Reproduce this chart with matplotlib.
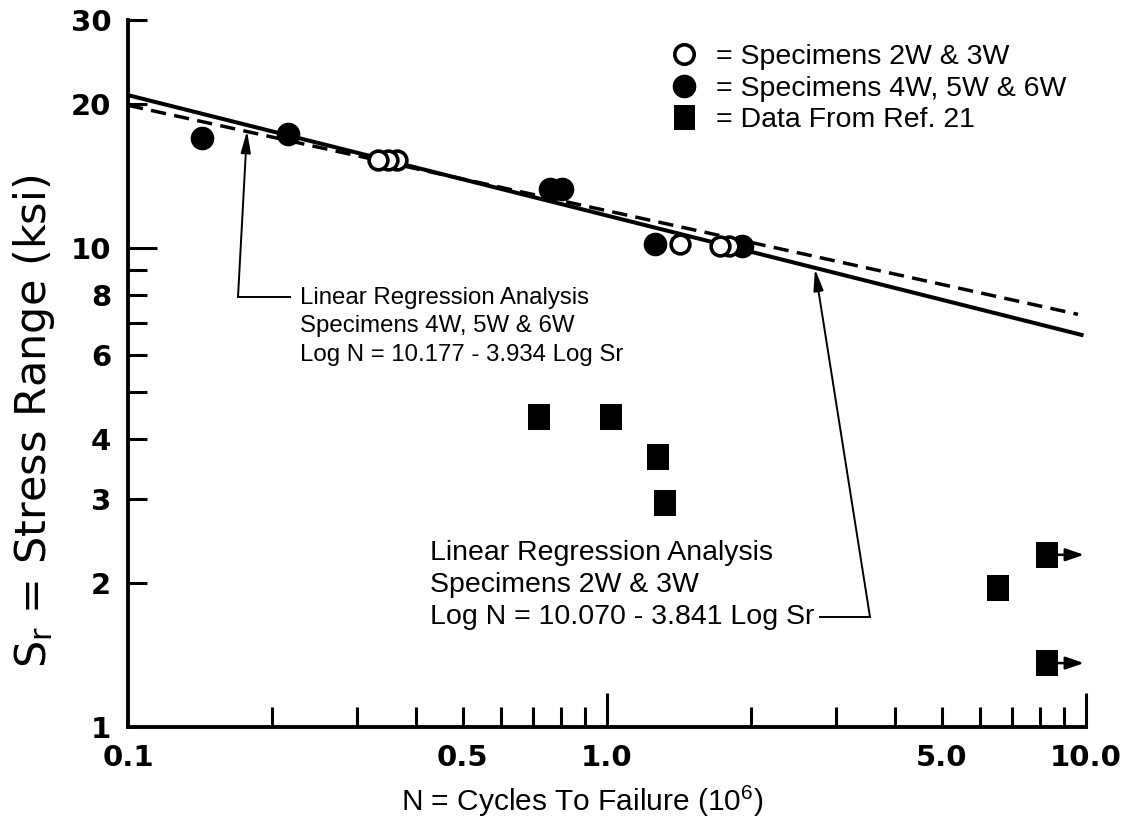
import matplotlib
matplotlib.use("Agg")
import matplotlib.pyplot as plt
from matplotlib.ticker import FixedLocator, FixedFormatter, NullFormatter
from matplotlib.lines import Line2D

# ---------------- data ----------------
open_N = [0.332, 0.349, 0.365, 1.42, 1.72, 1.80]          # Specimens 2W & 3W
open_S = [15.3, 15.3, 15.3, 10.2, 10.1, 10.1]
filled_N = [0.143, 0.216, 0.760, 0.807, 1.26, 1.91]       # Specimens 4W, 5W & 6W
filled_S = [17.0, 17.3, 13.3, 13.3, 10.2, 10.1]
ref_N = [0.721, 1.02, 1.28, 1.32, 6.55, 8.29, 8.29]       # Data from Ref. 21
ref_S = [4.44, 4.44, 3.66, 2.94, 1.95, 2.29, 1.36]
runout_N = [8.29, 8.29]
runout_S = [2.29, 1.36]
runout_end_N = 9.9

fit_2w3w_N = [0.1, 9.88]      # solid line
fit_2w3w_S = [20.9, 6.58]
fit_456w_N = [0.1, 9.62]      # dashed line
fit_456w_S = [19.9, 7.28]

x_major = [0.1, 0.5, 1.0, 5.0, 10.0]
x_major_labels = ["0.1", "0.5", "1.0", "5.0", "10.0"]
x_minor = [0.2, 0.3, 0.4, 0.6, 0.7, 0.8, 0.9, 2, 3, 4, 6, 7, 8, 9]
y_major = [1, 2, 3, 4, 6, 8, 10, 20, 30]
y_major_labels = ["1", "2", "3", "4", "6", "8", "10", "20", "30"]
y_minor = [5, 7, 9]

legend_labels = ["= Specimens 2W & 3W", "= Specimens 4W, 5W & 6W", "= Data From Ref. 21"]
upper_text = ["Linear Regression Analysis", "Specimens 4W, 5W & 6W", "Log N = 10.177 - 3.934 Log Sr"]
lower_text = ["Linear Regression Analysis", "Specimens 2W & 3W", "Log N = 10.070 - 3.841 Log Sr"]

# ---------------- figure ----------------
W, H = 1128, 834
fig = plt.figure(figsize=(W / 100, H / 100), dpi=100)
ax = fig.add_axes([128 / W, 1 - 727 / H, (1086 - 128) / W, (727 - 20) / H])
ax.set_xscale("log")
ax.set_yscale("log")
ax.set_xlim(0.1, 10)
ax.set_ylim(1, 30)

TXT = "Liberation Sans"

for s in ("top", "right"):
    ax.spines[s].set_visible(False)
for s in ("left", "bottom"):
    ax.spines[s].set_linewidth(2.8)
    ax.spines[s].set_capstyle("projecting")

# slightly tall rectangle marker, like the reference squares
rect = [(-0.42, -0.5), (0.42, -0.5), (0.42, 0.5), (-0.42, 0.5), (-0.42, -0.5)]

# regression lines
ax.plot(fit_2w3w_N, fit_2w3w_S, color="black", lw=2.9, solid_capstyle="butt", zorder=3)
ax.plot(fit_456w_N, fit_456w_S, color="black", lw=2.5, dashes=(4.4, 2.4), zorder=3)

# data
order = sorted(range(len(open_N)), key=lambda i: -open_N[i])
ax.scatter([open_N[i] for i in order], [open_S[i] for i in order], s=13.5 ** 2,
           facecolor="white", edgecolor="black", linewidths=2.6, zorder=5)
ax.scatter(filled_N, filled_S, s=16 ** 2, color="black", zorder=4)
ax.scatter(ref_N, ref_S, s=18.5 ** 2, marker=rect, color="black", linewidths=0, zorder=4)

for n, s in zip(runout_N, runout_S):
    ax.annotate("", xy=(runout_end_N, s), xytext=(n, s),
                arrowprops=dict(arrowstyle="-|>,head_length=1.1,head_width=0.38",
                                color="black", lw=1.8, shrinkA=7, shrinkB=0,
                                mutation_scale=10))

# ticks
ax.xaxis.set_major_locator(FixedLocator(x_major))
ax.xaxis.set_major_formatter(FixedFormatter(x_major_labels))
ax.xaxis.set_minor_locator(FixedLocator(x_minor))
ax.xaxis.set_minor_formatter(NullFormatter())
ax.yaxis.set_major_locator(FixedLocator(y_major))
ax.yaxis.set_major_formatter(FixedFormatter(y_major_labels))
ax.yaxis.set_minor_locator(FixedLocator(y_minor))
ax.yaxis.set_minor_formatter(NullFormatter())

ax.tick_params(axis="both", which="both", direction="in", width=2.2, color="black")
ax.tick_params(axis="x", which="both", length=14.4)
ax.tick_params(axis="y", which="both", length=13.7)
ax.tick_params(axis="x", which="major", pad=12)
ax.tick_params(axis="y", which="major", pad=12)
for lab in ax.get_xticklabels() + ax.get_yticklabels():
    lab.set_fontfamily("DejaVu Sans")
    lab.set_fontweight("bold")
    lab.set_fontsize(21)

fig.canvas.draw()
for val, t in zip(x_major, ax.xaxis.get_major_ticks()):
    if val in (1.0, 10.0):
        t.tick1line.set_markersize(24.5)
    if val == 0.1:
        t.tick1line.set_markersize(0)
for val, t in zip(y_major, ax.yaxis.get_major_ticks()):
    if val == 10:
        t.tick1line.set_markersize(21)
    if val == 1:
        t.tick1line.set_markersize(0)

# axis labels
ax.set_xlabel(r"N = Cycles To Failure (10$^{\mathregular{6}}$)", fontsize=21.5, family=TXT)
ax.set_ylabel(r"S$_{\mathregular{r}}$ = Stress Range (ksi)", fontsize=31, family="DejaVu Sans")
ax.xaxis.set_label_coords((582 - 128) / 958, (727 - 783) / 707)
ax.yaxis.set_label_coords((57 - 128) / 958, (727 - 421) / 707)

# legend
handles = [
    Line2D([], [], ls="none", marker="o", ms=14, mfc="white", mec="black", mew=2.6),
    Line2D([], [], ls="none", marker="o", ms=16, color="black"),
    Line2D([], [], ls="none", marker=rect, ms=18, color="black", mew=0),
]
leg = fig.legend(handles, legend_labels, loc="upper left",
                 bbox_to_anchor=(670 / W, 1 - 44 / H), frameon=False,
                 prop={"family": TXT, "size": 20.5}, handlelength=1.0,
                 handletextpad=0.6, labelspacing=0.2, borderpad=0, borderaxespad=0)


def fx(px):
    return (px - 128) / 958


def fy(py):
    return (727 - py) / 707


# upper annotation
for txt, py in zip(upper_text, [298, 326, 355]):
    ax.text(fx(300), fy(py), txt, transform=ax.transAxes, fontsize=17.3, family=TXT,
            va="center", ha="left")
ax.plot([fx(290), fx(238)], [fy(297), fy(297)], transform=ax.transAxes, color="black", lw=1.4)
ax.annotate("", xy=(fx(247), fy(131)), xycoords="axes fraction",
            xytext=(fx(238), fy(297)), textcoords="axes fraction",
            arrowprops=dict(arrowstyle="-|>,head_length=1.3,head_width=0.3", color="black",
                            lw=1.4, shrinkA=0, shrinkB=0, mutation_scale=10))

# lower annotation
for txt, py in zip(lower_text, [553, 585, 617]):
    ax.text(fx(430), fy(py), txt, transform=ax.transAxes, fontsize=20.5, family=TXT,
            va="center", ha="left")
ax.plot([fx(820), fx(870)], [fy(617), fy(617)], transform=ax.transAxes, color="black", lw=1.4)
ax.annotate("", xy=(fx(815), fy(269)), xycoords="axes fraction",
            xytext=(fx(870), fy(617)), textcoords="axes fraction",
            arrowprops=dict(arrowstyle="-|>,head_length=1.3,head_width=0.3", color="black",
                            lw=1.4, shrinkA=0, shrinkB=0, mutation_scale=10))

fig.savefig("out.png", dpi=100)
